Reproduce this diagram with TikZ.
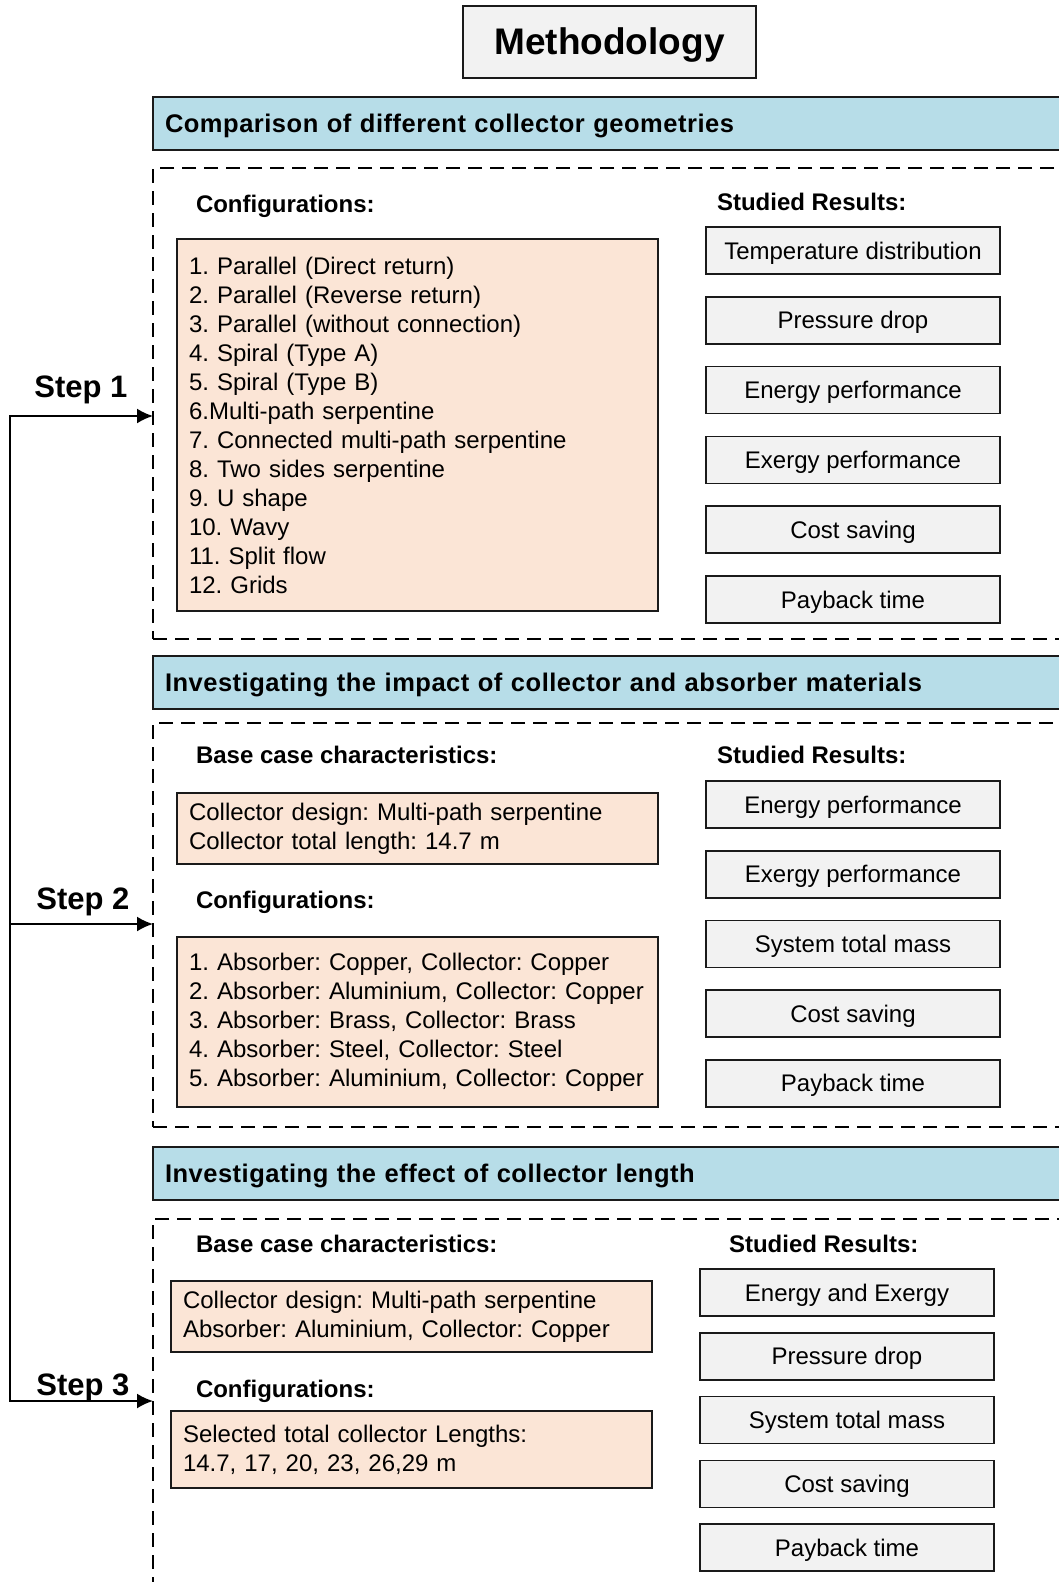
\documentclass[tikz,border=0pt]{standalone}
\usepackage{fontspec}
\setmainfont{Liberation Sans}
\usetikzlibrary{arrows.meta,positioning}
\definecolor{headblue}{HTML}{B7DDE8}
\definecolor{peach}{HTML}{FBE5D6}
\definecolor{boxgray}{HTML}{F2F2F2}
\definecolor{edgegray}{HTML}{1A1A1A}
\frenchspacing

\begin{document}
\begin{tikzpicture}
    [x=1pt,y=-1pt,
     every node/.style={inner sep=0pt,outer sep=0pt,font=\fontsize{24}{29}\selectfont},
     header/.style={rectangle,draw=edgegray,line width=1.6pt,fill=headblue,anchor=north west,
       minimum width=930pt,minimum height=53pt,inner xsep=12pt,text width=906pt,align=left,
       text height=21pt,text depth=3pt,
       font=\bfseries\fontsize{25.5}{29}\selectfont\addfontfeature{LetterSpace=2}},
     frame/.style={rectangle,draw=black,line width=2pt,dash pattern=on 14pt off 8pt,anchor=north west,
       minimum width=930pt},
     confbox/.style={rectangle,draw=edgegray,line width=1.6pt,fill=peach,anchor=north west,
       inner xsep=12pt,align=left,text width=457pt},
     resbox/.style={rectangle,draw=edgegray,line width=1.6pt,fill=boxgray,
       minimum width=294pt,minimum height=47pt,text height=20pt,text depth=3pt},
     label/.style={anchor=west,font=\bfseries\fontsize{24}{29}\selectfont},
     steplabel/.style={font=\bfseries\fontsize{31}{36}\selectfont},
     conn/.style={line width=2pt,draw=black}]
    \useasboundingbox (0,0) rectangle (1059,1582);

    % title
    \node[rectangle,draw=edgegray,line width=1.6pt,fill=boxgray,minimum width=293pt,minimum height=72pt,
      text height=29pt,text depth=5pt,font=\bfseries\fontsize{37}{44}\selectfont] (title) at (609.5,42) {Methodology};

    % step 1
    \node[header] (head1) at (153,97) {Comparison of different collector geometries};
    \node[frame,minimum height=471pt] (frame1) at (153,168) {};
    \node[label] (conf1) at (196,206) {Configurations:};
    \node[confbox,minimum width=481pt,minimum height=372pt] (list1) at (177,239)
      {1. Parallel (Direct return)\\
       2. Parallel (Reverse return)\\
       3. Parallel (without connection)\\
       4. Spiral (Type A)\\
       5. Spiral (Type B)\\
       6.Multi-path serpentine\\
       7. Connected multi-path serpentine\\
       8. Two sides serpentine\\
       9. U shape\\
       10. Wavy\\
       11. Split flow\\
       12. Grids};
    \node[label] (res1) at (717,202) {Studied Results:};
    \node[resbox,anchor=north west] (r1a) at (706,227) {Temperature distribution};
    \node[resbox,below=22.8pt of r1a] (r1b) {Pressure drop};
    \node[resbox,below=22.8pt of r1b] (r1c) {Energy performance};
    \node[resbox,below=22.8pt of r1c] (r1d) {Exergy performance};
    \node[resbox,below=22.8pt of r1d] (r1e) {Cost saving};
    \node[resbox,below=22.8pt of r1e] (r1f) {Payback time};

    % step 2
    \node[header] (head2) at (153,656) {Investigating the impact of collector and absorber materials};
    \node[frame,minimum height=404pt] (frame2) at (153,723) {};
    \node[label] (base2) at (196,755) {Base case characteristics:};
    \node[confbox,minimum width=481pt,minimum height=71pt] (case2) at (177,793)
      {Collector design: Multi-path serpentine\\
       Collector total length: 14.7 m};
    \node[label] (conf2) at (196,902) {Configurations:};
    \node[confbox,minimum width=481pt,minimum height=170pt] (list2) at (177,937)
      {1. Absorber: Copper, Collector: Copper\\
       2. Absorber: Aluminium, Collector: Copper\\
       3. Absorber: Brass, Collector: Brass\\
       4. Absorber: Steel, Collector: Steel\\
       5. Absorber: Aluminium, Collector: Copper};
    \node[label] (res2) at (717,755) {Studied Results:};
    \node[resbox,anchor=north west] (r2a) at (706,781) {Energy performance};
    \node[resbox,below=22.7pt of r2a] (r2b) {Exergy performance};
    \node[resbox,below=22.7pt of r2b] (r2c) {System total mass};
    \node[resbox,below=22.7pt of r2c] (r2d) {Cost saving};
    \node[resbox,below=22.7pt of r2d] (r2e) {Payback time};

    % step 3
    \node[header] (head3) at (153,1147) {Investigating the effect of collector length};
    \node[frame,minimum height=400pt] (frame3) at (153,1219) {};
    \node[label] (base3) at (196,1244) {Base case characteristics:};
    \node[confbox,minimum width=481pt,minimum height=71pt] (case3) at (171,1281)
      {Collector design: Multi-path serpentine\\
       Absorber: Aluminium, Collector: Copper};
    \node[label] (conf3) at (196,1391) {Configurations:};
    \node[confbox,minimum width=481pt,minimum height=77pt] (list3) at (171,1411)
      {Selected total collector Lengths:\\
       14.7, 17, 20, 23, 26,29 m};
    \node[label] (res3) at (729,1244) {Studied Results:};
    \node[resbox,anchor=north west] (r3a) at (700,1269) {Energy and Exergy};
    \node[resbox,below=16.8pt of r3a] (r3b) {Pressure drop};
    \node[resbox,below=16.8pt of r3b] (r3c) {System total mass};
    \node[resbox,below=16.8pt of r3c] (r3d) {Cost saving};
    \node[resbox,below=16.8pt of r3d] (r3e) {Payback time};

    % steps and connectors
    \node[steplabel] (step1) at (81,390) {Step 1};
    \node[steplabel] (step2) at (83,902) {Step 2};
    \node[steplabel] (step3) at (83,1388) {Step 3};
    \coordinate (sp1) at (10,416);
    \coordinate (sp2) at (10,924);
    \coordinate (sp3) at (10,1401);
    \draw[conn,{Latex[length=16pt,width=15pt]}-{Latex[length=16pt,width=15pt]}]
      (sp1 -| frame1.west) -- (sp1) -- (sp3) -- (sp3 -| frame3.west);
    \draw[conn,-{Latex[length=16pt,width=15pt]}] (sp2) -- (sp2 -| frame2.west);
\end{tikzpicture}
\end{document}
